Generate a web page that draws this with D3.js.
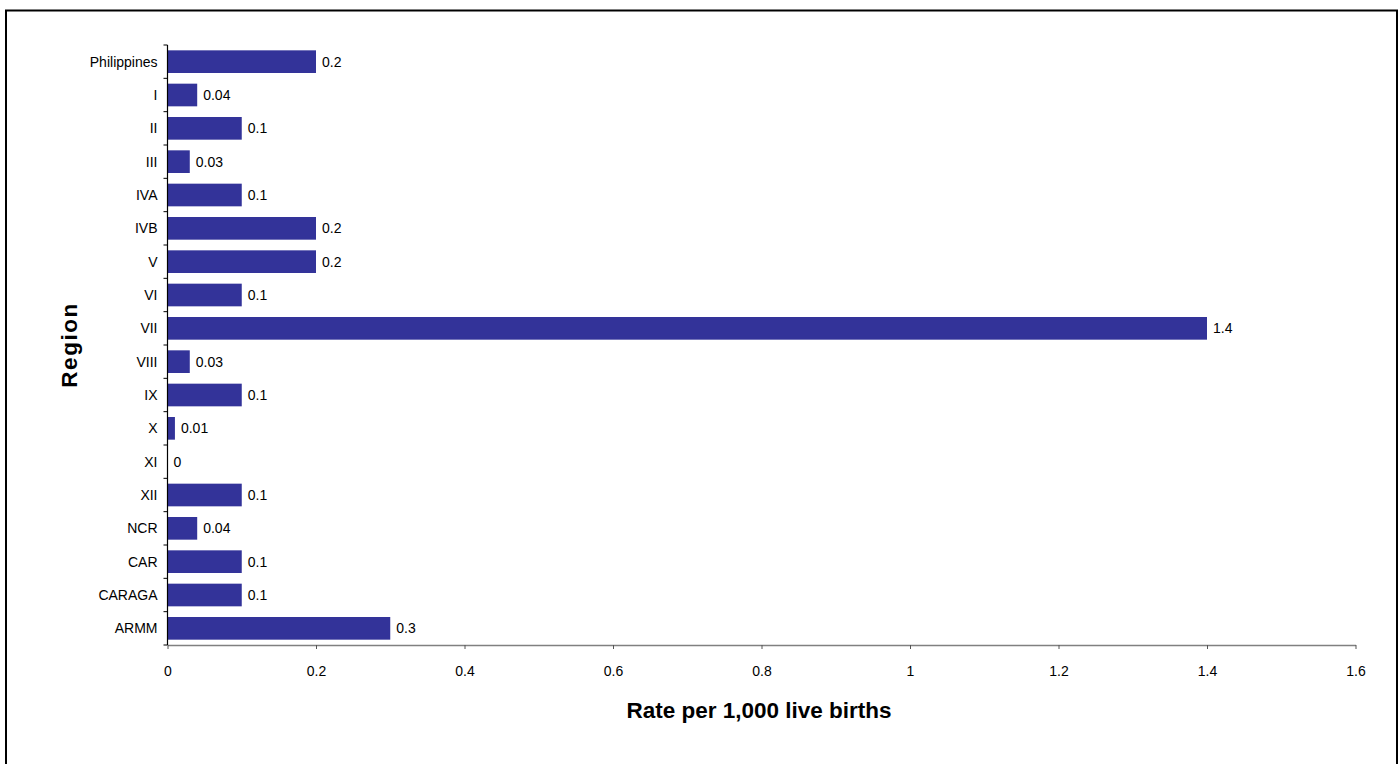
<!DOCTYPE html>
<html><head><meta charset="utf-8">
<script src="https://cdn.jsdelivr.net/npm/d3@7"></script>
<style>body{margin:0;background:#fff}svg{display:block}</style>
</head><body>
<script>
const categories = ["Philippines","I","II","III","IVA","IVB","V","VI","VII","VIII","IX","X","XI","XII","NCR","CAR","CARAGA","ARMM"];
const values = [0.2,0.04,0.1,0.03,0.1,0.2,0.2,0.1,1.4,0.03,0.1,0.01,0,0.1,0.04,0.1,0.1,0.3];
const valueLabels = ["0.2","0.04","0.1","0.03","0.1","0.2","0.2","0.1","1.4","0.03","0.1","0.01","0","0.1","0.04","0.1","0.1","0.3"];
const xTicks = [0,0.2,0.4,0.6,0.8,1,1.2,1.4,1.6];
const xTitle = "Rate per 1,000 live births";
const yTitle = "Region";

(function(){
const W = 1399, H = 764;
const svg = d3.select("body").append("svg").attr("width", W).attr("height", H);
svg.append("rect").attr("x",6).attr("y",10.5).attr("width",1391).attr("height",770)
  .attr("fill","#fff").attr("stroke","#000").attr("stroke-width",2);

const mLeft = 167.5, mRight = 1355.5, mTop = 45, mBottom = 645;
const x = d3.scaleLinear().domain([0,1.6]).range([mLeft,mRight]);
const y = d3.scaleBand().domain(categories).range([mTop,mBottom]).paddingInner(0.32).paddingOuter(0.16);

const font = "Liberation Sans, Arial, sans-serif";
const fs = 14;

svg.append("g").selectAll("rect").data(categories).join("rect")
  .attr("x", x(0)).attr("y", d => y(d))
  .attr("width", (d,i) => x(values[i]) - x(0))
  .attr("height", y.bandwidth()).attr("fill","#333399");

svg.append("g").selectAll("text").data(categories).join("text")
  .attr("x", (d,i) => x(values[i]) + 6)
  .attr("y", d => y(d) + y.bandwidth()/2 + 5)
  .attr("font-family", font).attr("font-size", fs).attr("fill","#000")
  .text((d,i) => valueLabels[i]);

const xg = svg.append("g").attr("transform", `translate(0,${mBottom})`)
  .call(d3.axisBottom(x).tickValues(xTicks).tickFormat(d3.format("")).tickSize(4).tickSizeOuter(0).tickPadding(17));
xg.select(".domain").attr("stroke","#808080").attr("stroke-width",1.5);
xg.selectAll(".tick line").attr("stroke","#555");
xg.selectAll("text").attr("font-family", font).attr("font-size", fs).attr("fill","#000");

const yg = svg.append("g").attr("transform", `translate(${mLeft},0)`);
yg.append("line").attr("x1",0).attr("x2",0).attr("y1",mTop).attr("y2",mBottom).attr("stroke","#000").attr("stroke-width",1.2);
const bounds = d3.range(categories.length + 1).map(i => mTop + i * (mBottom - mTop) / categories.length);
yg.selectAll("line.tk").data(bounds).join("line").attr("class","tk")
  .attr("x1",-4).attr("x2",0).attr("y1",d=>d).attr("y2",d=>d).attr("stroke","#000");
yg.selectAll("text").data(categories).join("text")
  .attr("x",-10).attr("y", d => y(d) + y.bandwidth()/2 + 5)
  .attr("text-anchor","end").attr("font-family", font).attr("font-size", fs).attr("fill","#000")
  .text(d => d);

svg.append("text").attr("x",759).attr("y",718).attr("text-anchor","middle")
  .attr("font-family", font).attr("font-size", 22.5).attr("font-weight","bold").text(xTitle);
svg.append("text").attr("transform","translate(77,345) rotate(-90)").attr("text-anchor","middle")
  .attr("font-family", font).attr("font-size", 22.5).attr("font-weight","bold").attr("letter-spacing","1.5").text(yTitle);
})();
</script>
</body></html>
